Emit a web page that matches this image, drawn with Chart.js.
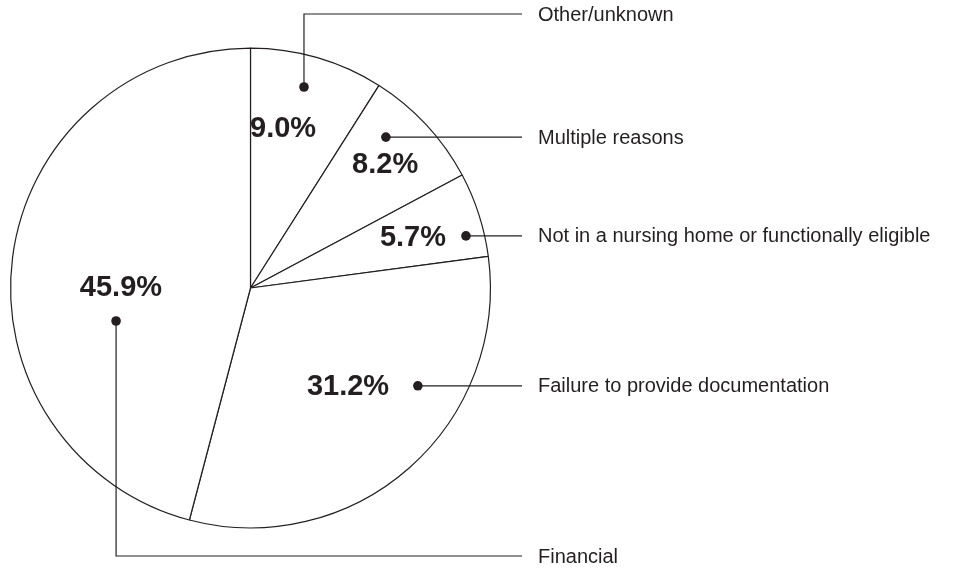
<!DOCTYPE html>
<html>
<head>
<meta charset="utf-8">
<script src="https://cdn.jsdelivr.net/npm/chart.js@4.4.0/dist/chart.umd.min.js"></script>
<style>
  html, body { margin: 0; padding: 0; background: #fff; }
  #wrap { width: 972px; height: 571px; }
</style>
</head>
<body>
<div id="wrap"><canvas id="pie"></canvas></div>
<script>
const categories = [
  'Other/unknown',
  'Multiple reasons',
  'Not in a nursing home or functionally eligible',
  'Failure to provide documentation',
  'Financial'
]
const shares = [9.0, 8.2, 5.7, 31.2, 45.9]

// where each label sits inside its slice: angle from 12 o'clock (deg), radius fraction
const pctAngle = [11.6, 47.6, 73, 135.4, 270]
const pctRadius = [0.676, 0.76, 0.708, 0.579, 0.54]
const dotAngle = [14.9, 41.9, 76.4, 120.3, 256.2]
const dotRadius = [0.867, 0.845, 0.924, 0.808, 0.577]
// leader rows: null = straight across at dot height
const leaderRow = [14, null, null, null, 556]

const INK = '#231f20'
const LINE_END = 522
const TEXT_X = 538

const calloutPlugin = {
  id: 'callouts',
  afterDraw(chart) {
    const ctx = chart.ctx
    const arcs = chart.getDatasetMeta(0).data
    const cx = arcs[0].x, cy = arcs[0].y, r = arcs[0].outerRadius
    const at = (deg, f) => {
      const a = deg * Math.PI / 180
      return [cx + Math.sin(a) * r * f, cy - Math.cos(a) * r * f]
    }
    ctx.save()
    ctx.fillStyle = INK
    ctx.strokeStyle = INK
    ctx.lineWidth = 1.2
    shares.forEach((v, i) => {
      const [px, py] = at(pctAngle[i], pctRadius[i])
      ctx.font = 'bold 29px "Liberation Sans", Arial, sans-serif'
      ctx.textAlign = 'center'
      ctx.textBaseline = 'middle'
      ctx.fillText(v.toFixed(1) + '%', px, py)

      const [dx, dy] = at(dotAngle[i], dotRadius[i])
      const rowY = leaderRow[i] === null ? dy : leaderRow[i]
      ctx.beginPath()
      ctx.moveTo(dx, dy)
      if (leaderRow[i] !== null) ctx.lineTo(dx, rowY)
      ctx.lineTo(LINE_END, rowY)
      ctx.stroke()
      ctx.beginPath()
      ctx.arc(dx, dy, 4.8, 0, Math.PI * 2)
      ctx.fill()

      ctx.font = '20px "Liberation Sans", Arial, sans-serif'
      ctx.textAlign = 'left'
      ctx.fillText(categories[i], TEXT_X, rowY + 1)
    })
    ctx.restore()
  }
}

new Chart(document.getElementById('pie'), {
  type: 'pie',
  data: {
    labels: categories,
    datasets: [{
      data: shares,
      backgroundColor: '#ffffff',
      borderColor: INK,
      borderWidth: 1.2
    }]
  },
  options: {
    responsive: true,
    maintainAspectRatio: false,
    animation: false,
    layout: { padding: { left: 10, top: 47, right: 481, bottom: 42 } },
    plugins: {
      legend: { display: false },
      tooltip: { enabled: false }
    }
  },
  plugins: [calloutPlugin]
})
</script>
</body>
</html>
